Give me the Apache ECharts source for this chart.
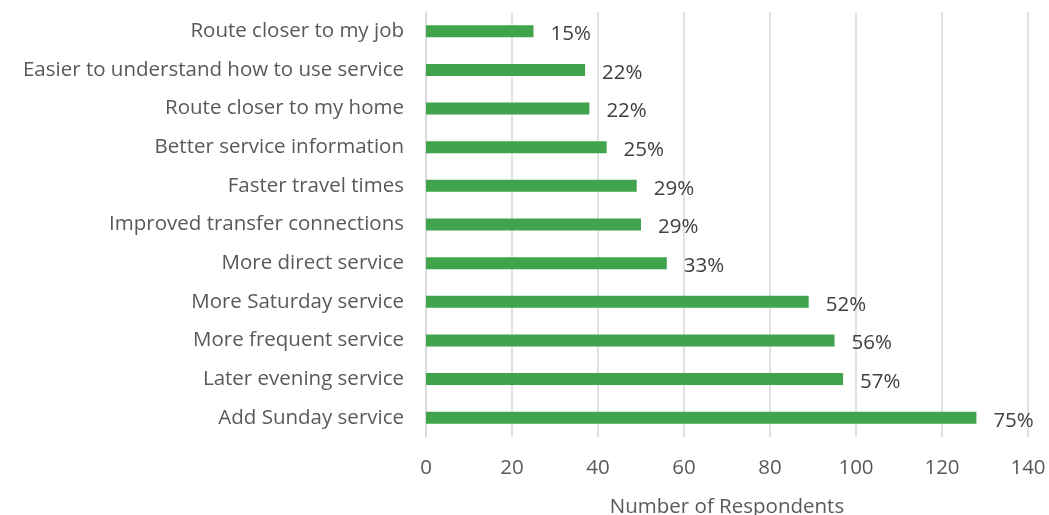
<!DOCTYPE html>
<html>
<head>
<meta charset="utf-8">
<script src="https://cdn.jsdelivr.net/npm/echarts@6/dist/echarts.min.js"></script>
<style>html,body{margin:0;padding:0;background:#fff;}#c{width:1049px;height:515px;}</style>
</head>
<body>
<div id="c"></div>
<script>
const categories = [
  "Add Sunday service",
  "Later evening service",
  "More frequent service",
  "More Saturday service",
  "More direct service",
  "Improved transfer connections",
  "Faster travel times",
  "Better service information",
  "Route closer to my home",
  "Easier to understand how to use service",
  "Route closer to my job"
];
const respondents = [128, 97, 95, 89, 56, 50, 49, 42, 38, 37, 25];
const percentLabels = ["75%", "57%", "56%", "52%", "33%", "29%", "29%", "25%", "22%", "22%", "15%"];
const xTicks = { min: 0, max: 140, interval: 20 };
const xAxisName = "Number of Respondents";

const FONT = "Open Sans";
const FS = 20.5;
const chart = echarts.init(document.getElementById('c'), null, { renderer: 'canvas' });
chart.setOption({
  animation: false,
  textStyle: { fontFamily: FONT },
  grid: { left: 426, right: 21, top: 12, bottom: 78, containLabel: false, outerBoundsMode: 'none' },
  xAxis: {
    type: 'value',
    min: xTicks.min, max: xTicks.max, interval: xTicks.interval,
    name: xAxisName, nameLocation: 'middle', nameGap: 60,
    nameTextStyle: { color: '#595959', fontSize: FS, fontFamily: FONT },
    axisLine: { show: false }, axisTick: { show: false },
    axisLabel: { color: '#595959', fontSize: FS, fontFamily: FONT, margin: 21 },
    splitLine: { show: true, lineStyle: { color: '#d9d9d9', width: 1.5 } }
  },
  yAxis: {
    type: 'category', data: categories,
    axisLine: { show: true, lineStyle: { color: '#d9d9d9', width: 1.5 } },
    axisTick: { show: false },
    axisLabel: { color: '#595959', fontSize: FS, fontFamily: FONT, margin: 22 }
  },
  series: [{
    type: 'bar',
    data: respondents.map((v, i) => ({ value: v, label: { formatter: percentLabels[i] } })),
    barWidth: 12,
    itemStyle: { color: '#41a34b' },
    label: { show: true, position: 'right', distance: 17, offset: [0, 3], color: '#404040', fontSize: FS, fontFamily: FONT }
  }]
});
</script>
</body>
</html>
